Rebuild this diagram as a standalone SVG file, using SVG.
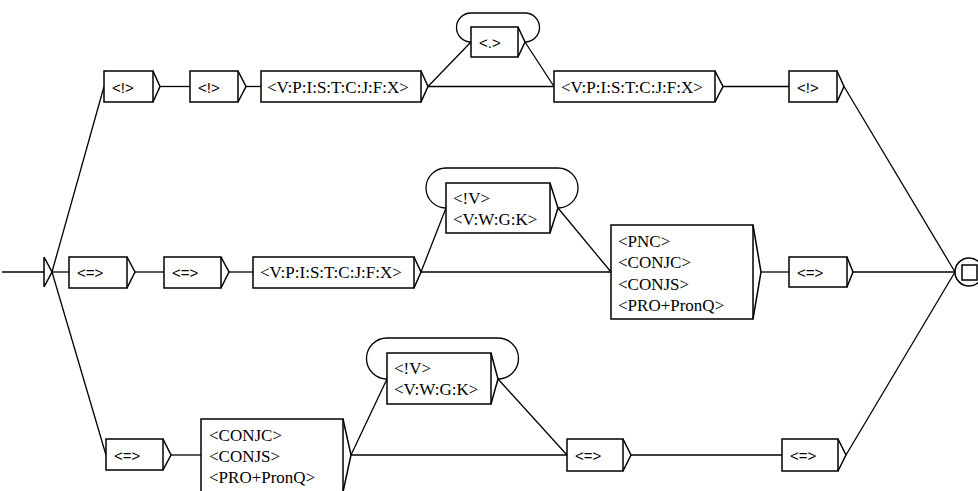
<svg xmlns="http://www.w3.org/2000/svg" width="978" height="491" viewBox="0 0 978 491">
<style>
.b{fill:#fff;stroke:#000;stroke-width:1.5}
.o{fill:none;stroke:#000;stroke-width:1.5;stroke-linejoin:miter}
.c{fill:none;stroke:#000;stroke-width:1.3}
.t{font-family:"Liberation Serif","Times New Roman",serif;font-size:17px;fill:#000}
.s{font-family:"Liberation Sans",Arial,sans-serif;font-size:15px;fill:#000}
</style>
<rect width="978" height="491" fill="#fff"/>
<g id="connectors">
<line class="c" x1="2" y1="272" x2="44" y2="272"/>
<line class="c" x1="52" y1="272" x2="104" y2="86.5"/>
<line class="c" x1="52" y1="272" x2="69" y2="272"/>
<line class="c" x1="52" y1="272" x2="106" y2="455"/>
<line class="c" x1="160" y1="86.5" x2="190" y2="86.5"/>
<line class="c" x1="246" y1="86.5" x2="261" y2="86.5"/>
<line class="c" x1="428" y1="86.5" x2="471" y2="42"/>
<line class="c" x1="428" y1="86.5" x2="554" y2="86.5"/>
<line class="c" x1="525" y1="42" x2="554" y2="86.5"/>
<path class="c" d="M471,42 A14.5,14.5 0 0 1 471,13 L525,13 A14.5,14.5 0 0 1 525,42"/>
<line class="c" x1="723" y1="86.5" x2="789" y2="86.5"/>
<line class="c" x1="844" y1="86.5" x2="955" y2="272"/>
<line class="c" x1="135" y1="272" x2="164" y2="272"/>
<line class="c" x1="229" y1="272" x2="253" y2="272"/>
<line class="c" x1="421" y1="272" x2="446" y2="208"/>
<line class="c" x1="421" y1="272" x2="611" y2="272"/>
<line class="c" x1="558" y1="208" x2="611" y2="272"/>
<path class="c" d="M446,208 A20,20 0 0 1 446,168 L558,168 A20,20 0 0 1 558,208"/>
<line class="c" x1="761" y1="272" x2="789" y2="272"/>
<line class="c" x1="853" y1="272" x2="955" y2="272"/>
<line class="c" x1="171" y1="455" x2="201" y2="455"/>
<line class="c" x1="351" y1="455" x2="387" y2="379"/>
<line class="c" x1="351" y1="455" x2="567" y2="455"/>
<line class="c" x1="498" y1="379" x2="567" y2="455"/>
<path class="c" d="M387,379 A20.5,20.5 0 0 1 387,338 L498,338 A20.5,20.5 0 0 1 498,379"/>
<line class="c" x1="631" y1="455" x2="782" y2="455"/>
<line class="c" x1="846" y1="455" x2="955" y2="272"/>
</g>
<g id="initial"><path class="o" d="M44,257 L44,287 M44,257 L52,272 L44,287"/></g>
<g id="final"><circle cx="969" cy="272" r="14" class="b"/><rect x="962" y="265" width="15" height="15" class="b"/></g>
<g id="t1"><rect class="b" x="104" y="71" width="49" height="31"/><path class="o" d="M153,71 L160,86.5 L153,102"/><text class="s" x="112" y="93">&lt;!&gt;</text></g>
<g id="t2"><rect class="b" x="190" y="71" width="48" height="31"/><path class="o" d="M238,71 L246,86.5 L238,102"/><text class="s" x="198" y="93">&lt;!&gt;</text></g>
<g id="t3"><rect class="b" x="261" y="71" width="160" height="31"/><path class="o" d="M421,71 L428,86.5 L421,102"/><text class="t" x="267" y="93">&lt;V:P:I:S:T:C:J:F:X&gt;</text></g>
<g id="t4"><rect class="b" x="471" y="27" width="47" height="30"/><path class="o" d="M518,27 L525,42 L518,57"/><text class="s" x="479" y="48">&lt;.&gt;</text></g>
<g id="t5"><rect class="b" x="554" y="71" width="161" height="31"/><path class="o" d="M715,71 L723,86.5 L715,102"/><text class="t" x="561" y="93">&lt;V:P:I:S:T:C:J:F:X&gt;</text></g>
<g id="t6"><rect class="b" x="789" y="71" width="48" height="31"/><path class="o" d="M837,71 L844,86.5 L837,102"/><text class="s" x="797" y="93">&lt;!&gt;</text></g>
<g id="m1"><rect class="b" x="69" y="257" width="58" height="31"/><path class="o" d="M127,257 L135,272 L127,288"/><text class="s" x="77" y="278">&lt;=&gt;</text></g>
<g id="m2"><rect class="b" x="164" y="257" width="57" height="31"/><path class="o" d="M221,257 L229,272 L221,288"/><text class="s" x="172" y="278">&lt;=&gt;</text></g>
<g id="m3"><rect class="b" x="253" y="257" width="161" height="31"/><path class="o" d="M414,257 L421,272 L414,288"/><text class="t" x="260" y="278">&lt;V:P:I:S:T:C:J:F:X&gt;</text></g>
<g id="m4"><rect class="b" x="446" y="183" width="104" height="50"/><path class="o" d="M550,183 L558,208 L550,233"/><text class="t" x="453" y="204">&lt;!V&gt;</text><text class="t" x="453" y="225">&lt;V:W:G:K&gt;</text></g>
<g id="m5"><rect class="b" x="611" y="225" width="142" height="94"/><path class="o" d="M753,225 L761,272 L753,319"/><text class="t" x="618" y="247">&lt;PNC&gt;</text><text class="t" x="618" y="268">&lt;CONJC&gt;</text><text class="t" x="618" y="289.5">&lt;CONJS&gt;</text><text class="t" x="618" y="311">&lt;PRO+PronQ&gt;</text></g>
<g id="m6"><rect class="b" x="789" y="257" width="58" height="30"/><path class="o" d="M847,257 L853,272 L847,287"/><text class="s" x="797" y="278">&lt;=&gt;</text></g>
<g id="b1"><rect class="b" x="106" y="439" width="57" height="31"/><path class="o" d="M163,439 L171,455 L163,470"/><text class="s" x="114" y="461">&lt;=&gt;</text></g>
<g id="b2"><rect class="b" x="201" y="419" width="142" height="73"/><path class="o" d="M343,419 L351,455 L343,492"/><text class="t" x="209" y="440.5">&lt;CONJC&gt;</text><text class="t" x="209" y="462">&lt;CONJS&gt;</text><text class="t" x="209" y="483">&lt;PRO+PronQ&gt;</text></g>
<g id="b3"><rect class="b" x="387" y="353" width="104" height="51"/><path class="o" d="M491,353 L498,379 L491,404"/><text class="t" x="394" y="374">&lt;!V&gt;</text><text class="t" x="394" y="395">&lt;V:W:G:K&gt;</text></g>
<g id="b4"><rect class="b" x="567" y="439" width="56" height="32"/><path class="o" d="M623,439 L631,455 L623,471"/><text class="s" x="575" y="461">&lt;=&gt;</text></g>
<g id="b5"><rect class="b" x="782" y="439" width="56" height="32"/><path class="o" d="M838,439 L846,455 L838,471"/><text class="s" x="790" y="461">&lt;=&gt;</text></g>
</svg>
